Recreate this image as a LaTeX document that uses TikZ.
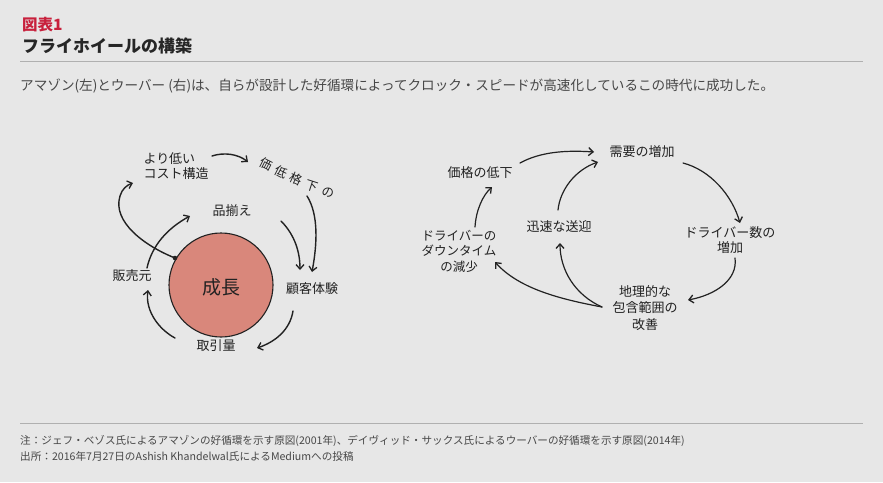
\documentclass[tikz,border=0pt]{standalone}
\usepackage{fontspec}
\setmainfont{Noto Sans CJK JP}
\usetikzlibrary{arrows.meta}
\definecolor{bgc}{HTML}{E7E7E7}
\definecolor{redc}{HTML}{C8203C}
\definecolor{txtc}{HTML}{474747}
\definecolor{rulec}{HTML}{B0B0B0}
\definecolor{ink}{HTML}{222222}
\definecolor{growc}{HTML}{D9877B}
\tikzset{
  lbl/.style={text=ink, font=\fontsize{13}{15.5}\selectfont, inner sep=0pt, align=center},
  pch/.style={text=ink, font=\fontsize{12.5}{14}\selectfont, inner sep=0pt},
  arr/.style={draw=ink, line width=1.4pt, line cap=round,
    -{Straight Barb[length=4.5pt,width=8pt,line width=1.3pt]}},
  note/.style={text=txtc, font=\fontsize{10.6}{12}\selectfont, inner sep=0pt, anchor=base west},
}
\begin{document}
\begin{tikzpicture}[x=1pt,y=-1pt]
\useasboundingbox (0,0) rectangle (883,482);
\fill[bgc] (0,0) rectangle (883,482);
% header
\node[text=redc, font=\fontsize{15.5}{17}\selectfont\bfseries, inner sep=0pt, anchor=base west] (fig) at (22,30.5) {図表1};
\node[text=black!85, font=\fontsize{17}{19}\selectfont\bfseries, inner sep=0pt, anchor=base west] (title) at (22,52.5) {フライホイールの構築};
\coordinate (r1a) at (20,61.5); \coordinate (r1b) at (863,61.5);
\draw[rulec, line width=0.8pt] (r1a) -- (r1b);
\node[text=txtc, font=\fontsize{13.6}{15}\selectfont, inner sep=0pt, anchor=base west] (sub) at (20,90.5)
  {アマゾン(左)とウーバー (右)は、自らが設計した好循環によってクロック・スピードが高速化しているこの時代に成功した。};
% footer
\coordinate (r2a) at (20,423); \coordinate (r2b) at (863,423);
\draw[rulec, line width=0.8pt] (r2a) -- (r2b);
\node[note] (n1) at (20,444.5) {注：ジェフ・ベゾス氏によるアマゾンの好循環を示す原図(2001年)、デイヴィッド・サックス氏によるウーバーの好循環を示す原図(2014年)};
\node[note] (n2) at (20,460.5) {出所：2016年7月27日のAshish Khandelwal氏によるMediumへの投稿};

% ===== left diagram =====
\node[circle, fill=growc, draw=ink, line width=1.1pt, minimum size=104pt, inner sep=0pt] (grow) at (221,285) {};
\node[lbl, font=\fontsize{19}{21}\selectfont] (growt) at (221,287) {成長};
\node[lbl, align=left] (cost) at (176,166) {より低い\\コスト構造};
\node[pch, rotate=-27] (p1) at (266,164) {価};
\node[pch, rotate=-27] (p2) at (281,172) {低};
\node[pch, rotate=-25] (p3) at (296,179) {格};
\node[pch, rotate=-18] (p4) at (312,186) {下};
\node[pch, rotate=-12] (p5) at (328,193) {の};
\node[lbl] (sel) at (232,211) {品揃え};
\node[lbl] (cx) at (312,289) {顧客体験};
\node[lbl] (tv) at (216,346) {取引量};
\node[lbl] (sellers) at (132,276) {販売元};

\coordinate (dot) at (175,258);
\fill[ink] (dot) circle (2.3pt);

\coordinate (a1s) at (212,156); \coordinate (a1e) at (248,162);
\draw[arr] (a1s) .. controls (224,152) and (238,154) .. (a1e);
\coordinate (a2s) at (307,196); \coordinate (a2e) at (312,272);
\draw[arr] (a2s) .. controls (319,215) and (317,245) .. (a2e);
\coordinate (a3s) at (281,221); \coordinate (a3e) at (300,270);
\draw[arr] (a3s) .. controls (292,232) and (300,248) .. (a3e);
\coordinate (a4s) at (293,311); \coordinate (a4e) at (257,348);
\draw[arr] (a4s) .. controls (290,330) and (275,342) .. (a4e);
\coordinate (a5s) at (175,338); \coordinate (a5e) at (148,290);
\draw[arr] (a5s) .. controls (160,330) and (145,312) .. (a5e);
\coordinate (a6s) at (147,268); \coordinate (a6e) at (190,216);
\draw[arr] (a6s) .. controls (152,245) and (168,228) .. (a6e);
\coordinate (a7e) at (133,183);
\draw[arr] (dot) .. controls (145,246) and (112,222) .. (120,196) .. controls (122,189) and (127,185) .. (a7e);

% ===== right diagram =====
\node[lbl] (dem) at (642,152) {需要の増加};
\node[lbl] (price) at (480,173) {価格の低下};
\node[lbl] (pick) at (559,226) {迅速な送迎};
\node[lbl, font=\fontsize{12.5}{15.5}\selectfont] (down) at (459,251) {ドライバーの\\ダウンタイム\\の減少};
\node[lbl] (drv) at (730,240) {ドライバー数の\\増加};
\node[lbl, font=\fontsize{13}{16.5}\selectfont] (geo) at (645,308) {地理的な\\包含範囲の\\改善};

\coordinate (ba) at (520,163); \coordinate (bae) at (594,152);
\draw[arr, line width=1.2pt] (ba) .. controls (540,152) and (565,150) .. (bae);
\coordinate (bb) at (558,210); \coordinate (bbe) at (598,162);
\draw[arr, line width=1.2pt] (bb) .. controls (560,190) and (575,170) .. (bbe);
\coordinate (bc) at (683,163); \coordinate (bce) at (740,223);
\draw[arr, line width=1.2pt] (bc) .. controls (710,170) and (732,195) .. (bce);
\coordinate (bd) at (735,258); \coordinate (bde) at (688,300);
\draw[arr, line width=1.2pt] (bd) .. controls (738,280) and (715,295) .. (bde);
\coordinate (be) at (602,307); \coordinate (bee) at (495,262);
\draw[arr, line width=1.2pt] (be) .. controls (565,300) and (520,290) .. (bee);
\coordinate (bfe) at (560,243);
\draw[arr, line width=1.2pt] (be) .. controls (575,295) and (560,270) .. (bfe);
\coordinate (bg) at (475,227); \coordinate (bge) at (492,187);
\draw[arr, line width=1.2pt] (bg) .. controls (476,210) and (483,195) .. (bge);
\end{tikzpicture}
\end{document}
